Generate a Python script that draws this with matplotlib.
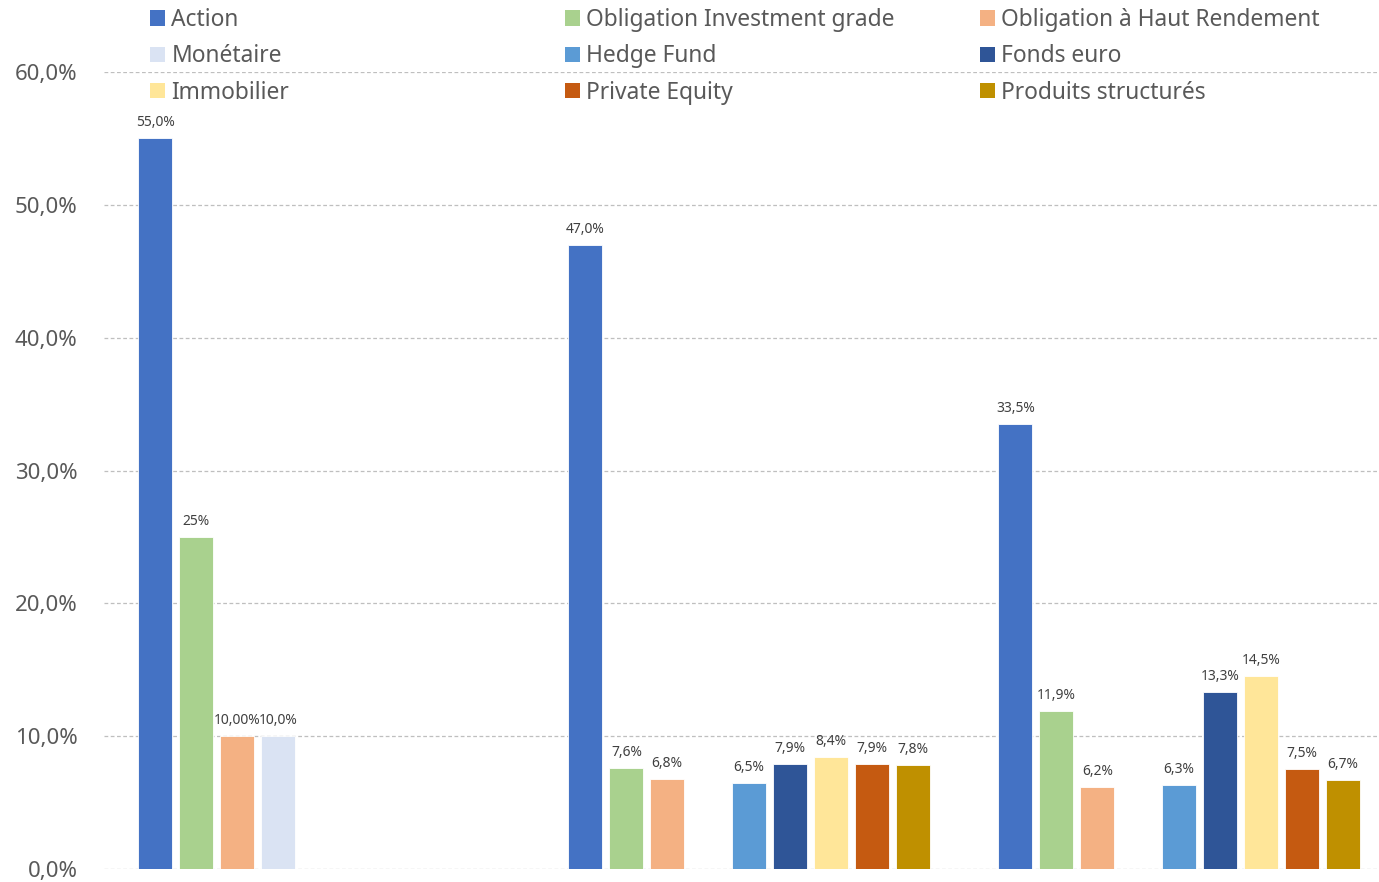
import matplotlib

matplotlib.use("Agg")
import matplotlib.pyplot as plt
import numpy as np
from matplotlib.patches import Patch

plt.rcParams["font.family"] = ["Noto Sans", "DejaVu Sans"]

# data (None = no bar in that group)
GROUPS = ["Profil 1", "Profil 2", "Profil 3"]
SERIES = [
    "Action",
    "Obligation Investment grade",
    "Obligation à Haut Rendement",
    "Monétaire",
    "Hedge Fund",
    "Fonds euro",
    "Immobilier",
    "Private Equity",
    "Produits structurés",
]
COLORS = [
    "#4472C4",
    "#A9D18E",
    "#F4B183",
    "#DAE3F3",
    "#5B9BD5",
    "#2F5597",
    "#FFE699",
    "#C55A11",
    "#BF9000",
]
VALUES = {
    "Action": [55.0, 47.0, 33.5],
    "Obligation Investment grade": [25.0, 7.6, 11.9],
    "Obligation à Haut Rendement": [10.0, 6.8, 6.2],
    "Monétaire": [10.0, None, None],
    "Hedge Fund": [None, 6.5, 6.3],
    "Fonds euro": [None, 7.9, 13.3],
    "Immobilier": [None, 8.4, 14.5],
    "Private Equity": [None, 7.9, 7.5],
    "Produits structurés": [None, 7.8, 6.7],
}
LABELS = {
    "Action": ["55,0%", "47,0%", "33,5%"],
    "Obligation Investment grade": ["25%", "7,6%", "11,9%"],
    "Obligation à Haut Rendement": ["10,00%", "6,8%", "6,2%"],
    "Monétaire": ["10,0%", None, None],
    "Hedge Fund": [None, "6,5%", "6,3%"],
    "Fonds euro": [None, "7,9%", "13,3%"],
    "Immobilier": [None, "8,4%", "14,5%"],
    "Private Equity": [None, "7,9%", "7,5%"],
    "Produits structurés": [None, "7,8%", "6,7%"],
}
Y_TICKS = [0, 10, 20, 30, 40, 50, 60]

W, H = 1379, 882
fig = plt.figure(figsize=(W / 100, H / 100), dpi=100)
fig.patch.set_facecolor("white")

left, right, bottom, top = 104, 1379, 869, 72
ax = fig.add_axes([left / W, (H - bottom) / H, (right - left) / W, (bottom - top) / H])

step = 0.0951
width = 0.079
x = np.arange(len(GROUPS))
for i, (name, color) in enumerate(zip(SERIES, COLORS)):
    offset = (i - 4) * step
    for gx, val, lab in zip(x, VALUES[name], LABELS[name]):
        if val is None:
            continue
        ax.bar(gx + offset, val, width=width, color=color, edgecolor="white", linewidth=0.6, zorder=3)
        ax.annotate(
            lab,
            xy=(gx + offset, val),
            xytext=(0, 8),
            textcoords="offset pixels",
            ha="center",
            va="bottom",
            fontsize=10,
            color="#404040",
            zorder=4,
        )

ax.set_xlim(-0.5, -0.5 + (right - left) / 430)
ax.set_ylim(0, 60)
ax.set_yticks(Y_TICKS)
ax.set_yticklabels([f"{t},0%" for t in Y_TICKS])
ax.tick_params(axis="y", length=0, pad=19, labelsize=16, labelcolor="#595959")
ax.set_xticks([])
ax.grid(axis="y", color="#BFBFBF", linestyle=(0, (3, 2)), linewidth=0.9, zorder=0)
for spine in ax.spines.values():
    spine.set_visible(False)
ax.patch.set_alpha(0)

# legend: three single-column blocks laid out like the Excel legend
handles = [Patch(facecolor=c, edgecolor="none") for c in COLORS]
col_x = [150, 565, 980]
for col in range(3):
    idx = [col, col + 3, col + 6]
    leg = fig.legend(
        [handles[k] for k in idx],
        [SERIES[k] for k in idx],
        loc="upper left",
        bbox_to_anchor=(col_x[col] / W, 1 - 8 / H),
        frameon=False,
        fontsize=16.4,
        handlelength=0.64,
        handleheight=0.64,
        handletextpad=0.3,
        labelspacing=0.54,
        borderpad=0,
        borderaxespad=0,
        labelcolor="#595959",
    )

fig.savefig("out.png", dpi=100)
